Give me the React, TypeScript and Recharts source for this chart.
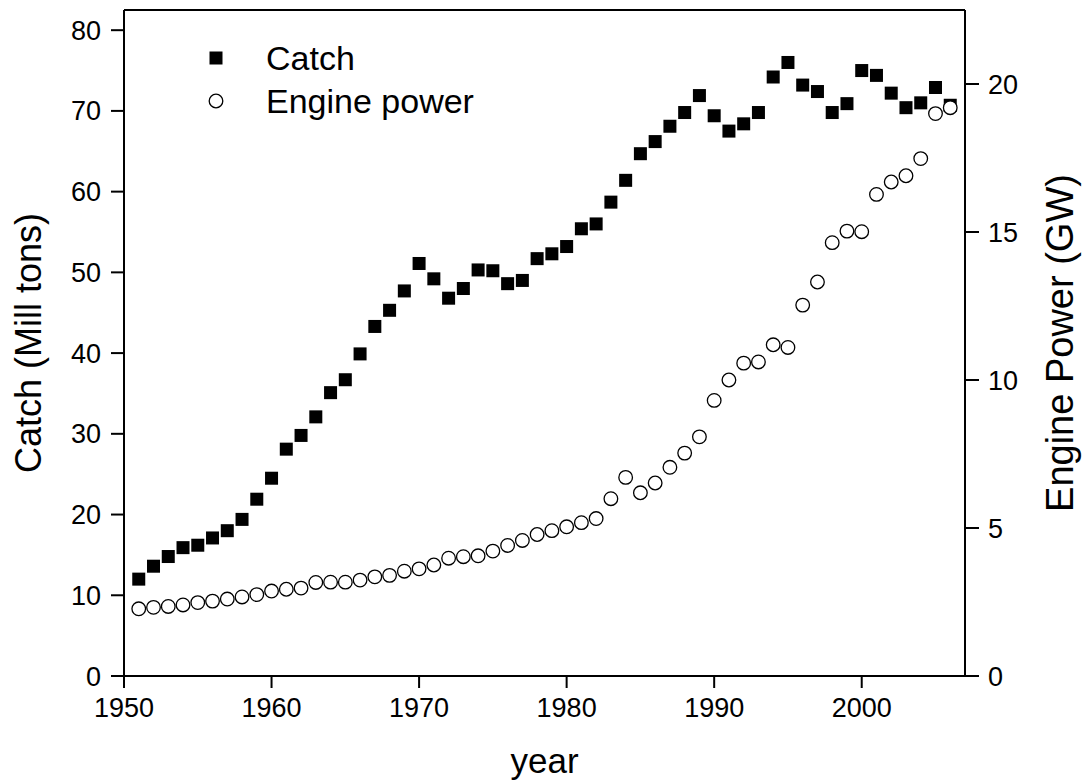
import { ScatterChart, Scatter, XAxis, YAxis, ReferenceLine, Legend } from "recharts";

const FONT = "'Liberation Sans', Arial, Helvetica, sans-serif";

const years = [
  1951, 1952, 1953, 1954, 1955, 1956, 1957, 1958, 1959, 1960,
  1961, 1962, 1963, 1964, 1965, 1966, 1967, 1968, 1969, 1970,
  1971, 1972, 1973, 1974, 1975, 1976, 1977, 1978, 1979, 1980,
  1981, 1982, 1983, 1984, 1985, 1986, 1987, 1988, 1989, 1990,
  1991, 1992, 1993, 1994, 1995, 1996, 1997, 1998, 1999, 2000,
  2001, 2002, 2003, 2004, 2005, 2006,
];

// catch, million tons
const catchValues = [
  12.0, 13.6, 14.8, 15.9, 16.2, 17.1, 18.0, 19.4, 21.9, 24.5,
  28.1, 29.8, 32.1, 35.1, 36.7, 39.9, 43.3, 45.3, 47.7, 51.1,
  49.2, 46.8, 48.0, 50.3, 50.2, 48.6, 49.0, 51.7, 52.3, 53.2,
  55.4, 56.0, 58.7, 61.4, 64.7, 66.2, 68.1, 69.8, 71.9, 69.4,
  67.5, 68.4, 69.8, 74.2, 76.0, 73.2, 72.4, 69.8, 70.9, 75.0,
  74.4, 72.2, 70.4, 71.0, 72.9, 70.7,
];

// engine power, GW
const powerValues = [
  2.27, 2.32, 2.35, 2.4, 2.48, 2.53, 2.6, 2.67, 2.75, 2.87,
  2.93, 2.97, 3.16, 3.17, 3.17, 3.24, 3.35, 3.4, 3.54, 3.62,
  3.75, 3.98, 4.03, 4.06, 4.22, 4.41, 4.58, 4.78, 4.91, 5.04,
  5.18, 5.32, 5.99, 6.71, 6.19, 6.52, 7.05, 7.53, 8.08, 9.31,
  10.0, 10.57, 10.61, 11.19, 11.1, 12.53, 13.31, 14.64, 15.03, 15.01,
  16.27, 16.69, 16.9, 17.48, 19.0, 19.2,
];

const xTicks = [1950, 1960, 1970, 1980, 1990, 2000];
const catchTicks = [0, 10, 20, 30, 40, 50, 60, 70, 80];
const powerTicks = [0, 5, 10, 15, 20];
const xDomain = [1950, 2007];
const catchMax = 82.5;
const powerMax = 22.5;

const catchData = years.map((year, i) => ({ year, catch: catchValues[i] }));
const powerData = years.map((year, i) => ({ year, power: powerValues[i] }));

const axisStroke = { stroke: "#000", strokeWidth: 2 };
const tickStyle = { fill: "#000", fontSize: 27, fontFamily: FONT };

const SquareDot = (p: any) => (
  <rect x={p.cx - 6.5} y={p.cy - 6.5} width={13} height={13} fill="#000" />
);
const OpenDot = (p: any) => (
  <circle cx={p.cx} cy={p.cy} r={6.8} fill="#fff" stroke="#000" strokeWidth={1.3} />
);

function YearLabel(props: any) {
  const { x, y, width, height } = props.viewBox;
  return (
    <text x={x + width / 2} y={y + height - 10} textAnchor="middle" fontSize={35} fontFamily={FONT} fill="#000">
      year
    </text>
  );
}

function CatchLabel(props: any) {
  const { x, y, height } = props.viewBox;
  const bx = x + 41;
  const cy = y + height / 2;
  return (
    <text x={bx} y={cy} transform={`rotate(-90, ${bx}, ${cy})`} textAnchor="middle" fontSize={36} fontFamily={FONT} fill="#000">
      Catch (Mill tons)
    </text>
  );
}

function PowerLabel(props: any) {
  const { x, y, height } = props.viewBox;
  const bx = x + 108;
  const cy = y + height / 2;
  return (
    <text x={bx} y={cy} transform={`rotate(-90, ${bx}, ${cy})`} textAnchor="middle" fontSize={38} fontFamily={FONT} fill="#000">
      Engine Power (GW)
    </text>
  );
}

function LegendBox() {
  return (
    <svg width={320} height={90} style={{ display: "block" }}>
      <rect x={9.5} y={15.5} width={13} height={13} fill="#000" />
      <text x={66} y={34} fontSize={34} fontFamily={FONT} fill="#000">Catch</text>
      <circle cx={16} cy={65} r={6.8} fill="#fff" stroke="#000" strokeWidth={1.3} />
      <text x={66} y={77} fontSize={34} fontFamily={FONT} fill="#000">Engine power</text>
    </svg>
  );
}

export default function App() {
  return (
    <div style={{ position: "absolute", left: 0, top: 0, background: "#fff" }}>
      <ScatterChart width={1082} height={783} margin={{ top: 10, right: 0, bottom: 0, left: 0 }} style={{ fontFamily: FONT }}>
        <XAxis
          type="number" dataKey="year" domain={xDomain} ticks={xTicks} allowDataOverflow
          height={107} tickSize={12} tickMargin={10}
          axisLine={axisStroke} tickLine={axisStroke} tick={tickStyle}
          label={{ content: YearLabel }}
        />
        <YAxis
          yAxisId="left" type="number" dataKey="catch" domain={[0, catchMax]} ticks={catchTicks}
          width={124} tickSize={13} tickMargin={10}
          axisLine={axisStroke} tickLine={axisStroke} tick={tickStyle}
          label={{ content: CatchLabel }}
        />
        <YAxis
          yAxisId="right" orientation="right" type="number" dataKey="power" domain={[0, powerMax]} ticks={powerTicks}
          width={117} tickSize={14} tickMargin={9}
          axisLine={axisStroke} tickLine={axisStroke} tick={tickStyle}
          label={{ content: PowerLabel }}
        />
        <ReferenceLine yAxisId="left" y={catchMax} stroke="#000" strokeWidth={2} />
        <Legend layout="vertical" align="center" verticalAlign="middle" wrapperStyle={{ left: 200, top: 36, width: 320 }} content={LegendBox} />
        <Scatter yAxisId="left" name="Catch" data={catchData} shape={SquareDot} isAnimationActive={false} />
        <Scatter yAxisId="right" name="Engine power" data={powerData} shape={OpenDot} isAnimationActive={false} />
      </ScatterChart>
    </div>
  );
}
